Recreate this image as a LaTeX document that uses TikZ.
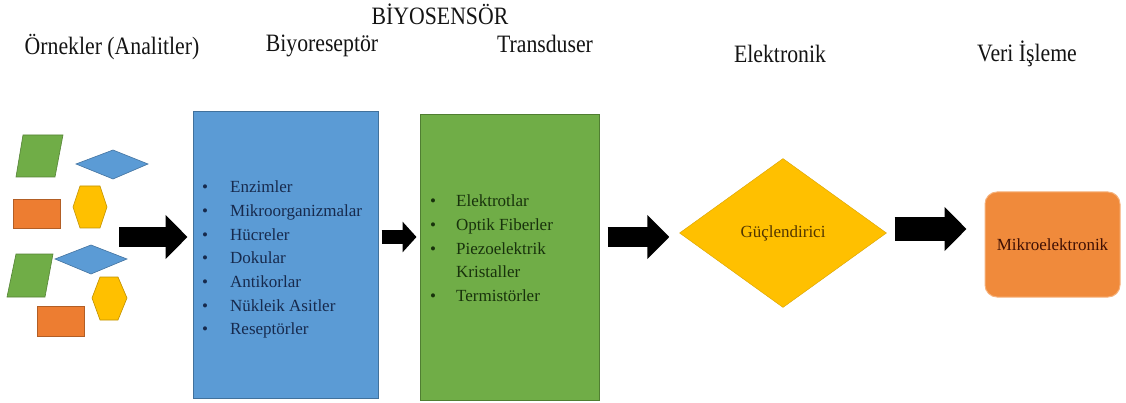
\documentclass[tikz,border=0pt]{standalone}
\usepackage{fontspec}
\setmainfont{Liberation Serif}
\newfontfamily\headfont{Liberation Serif}[FakeStretch=0.87]
\usetikzlibrary{shapes.geometric,arrows.meta}
\definecolor{recblue}{HTML}{5B9BD5}
\definecolor{recedge}{HTML}{41719C}
\definecolor{trgreen}{HTML}{70AD47}
\definecolor{tredge}{HTML}{507E32}
\definecolor{ampyellow}{HTML}{FFC000}
\definecolor{ampedge}{HTML}{D9A300}
\definecolor{procorange}{HTML}{F08A3B}
\definecolor{procedge}{HTML}{F6B27C}
\definecolor{smallorange}{HTML}{ED7D31}
\definecolor{recnavy}{HTML}{172A4D}
\definecolor{trdark}{HTML}{18320C}
\definecolor{ampbrown}{HTML}{523600}
\definecolor{procbrown}{HTML}{401004}
\begin{document}
\begin{tikzpicture}[x=1pt,y=-1pt,
  head/.style={anchor=base,inner sep=0pt,text=black!92,font=\headfont\fontsize{25}{30}\selectfont},
  listtext/.style={anchor=base west,inner sep=0pt,font=\fontsize{17}{20.4}\selectfont},
  small/.style={draw=#1!75!black,fill=#1,line width=0.6pt},
  bigarrow/.style={line width=20pt,-{Triangle[length=22pt,width=43pt]}}]
  \useasboundingbox (0,0) rectangle (1126,403);
  \node[head] (bio) at (440,25) {BİYOSENSÖR};
  \node[head] (hsamp) at (112,55) {Örnekler (Analitler)};
  \node[head] (hrec) at (322,52) {Biyoreseptör};
  \node[head] (htr) at (545,53) {Transduser};
  \node[head] (hel) at (780,63) {Elektronik};
  \node[head] (hproc) at (1027,62) {Veri İşleme};
  \draw[small=trgreen] (16,177)--(23,135)--(63,135)--(55,177)--cycle;
  \draw[small=recblue] (76,164)--(113,150)--(148,164)--(113,179)--cycle;
  \draw[small=smallorange] (13,199) rectangle (60,228);
  \draw[small=ampyellow] (73,207)--(80,186)--(100,186)--(107,207)--(100,228)--(80,228)--cycle;
  \draw[small=trgreen] (7,297)--(16,254)--(53,254)--(45,297)--cycle;
  \draw[small=recblue] (55,259)--(91,245)--(127,259)--(91,274)--cycle;
  \draw[small=ampyellow] (92,298)--(100,277)--(118,277)--(127,298)--(118,320)--(100,320)--cycle;
  \draw[small=smallorange] (37,306) rectangle (84,336);
  \node[draw=recedge,fill=recblue,line width=1pt,minimum width=185pt,minimum height=286pt] (rec) at (285.5,255) {};
  \node[draw=tredge,fill=trgreen,line width=1pt,minimum width=179pt,minimum height=285pt] (trans) at (509.5,257.5) {};
  \node[shape=diamond,draw=ampedge,fill=ampyellow,inner sep=0pt,minimum width=207pt,minimum height=149pt,
    text=ampbrown,font=\fontsize{17}{20}\selectfont] (amp) at (783,233) {Güçlendirici};
  \node[draw=procedge,fill=procorange,line width=1pt,rounded corners=12pt,minimum width=135pt,minimum height=105pt,
    text=procbrown,font=\fontsize{17}{20}\selectfont] (proc) at (1052.5,244.5) {Mikroelektronik};
  \node[listtext,text=recnavy] (reclist) at (202,193) {\def\arraystretch{1.16}\begin{tabular}[t]{@{}l@{\hspace{22pt}}l@{}}
    • & Enzimler\\ • & Mikroorganizmalar\\ • & Hücreler\\ • & Dokular\\
    • & Antikorlar\\ • & Nükleik Asitler\\ • & Reseptörler\end{tabular}};
  \node[listtext,text=trdark] (trlist) at (430,207) {\def\arraystretch{1.16}\begin{tabular}[t]{@{}l@{\hspace{20pt}}l@{}}
    • & Elektrotlar\\ • & Optik Fiberler\\ • & Piezoelektrik\\ & Kristaller\\ • & Termistörler\end{tabular}};
  \coordinate (src) at (119,237);
  \draw[bigarrow,shorten >=5pt] (src) -- (src -| rec.west);
  \draw[line width=14pt,-{Triangle[length=14pt,width=30pt]},shorten <=3pt,shorten >=3pt] (rec.east |- src) -- (trans.west |- src);
  \draw[bigarrow,shorten <=8pt,shorten >=10pt] (trans.east |- src) -- (amp.west |- src);
  \draw[bigarrow,line width=24pt,shorten <=8pt,shorten >=18pt] ([yshift=4pt]amp.east) -- ([yshift=4pt]amp.east -| proc.west);
\end{tikzpicture}
\end{document}
